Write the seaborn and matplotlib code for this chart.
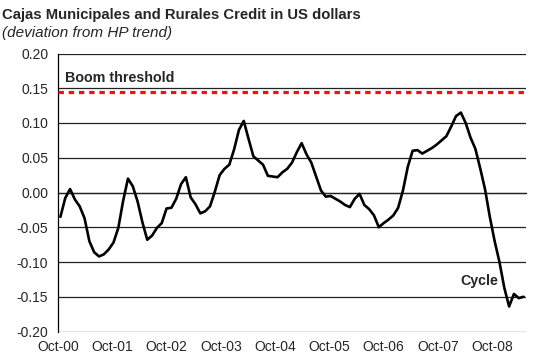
import numpy as np
import pandas as pd
import matplotlib
matplotlib.use("Agg")
import matplotlib.pyplot as plt
import seaborn as sns

# ---- data (monthly, Oct-00 .. Oct-08) ----
cycle = [
    -0.035, -0.008, 0.005, -0.010, -0.020, -0.037, -0.070, -0.086, -0.092, -0.089,
    -0.082, -0.072, -0.051, -0.012, 0.020, 0.009, -0.013, -0.043, -0.068, -0.062,
    -0.051, -0.044, -0.023, -0.022, -0.009, 0.012, 0.022, -0.007, -0.017, -0.030,
    -0.027, -0.020, 0.001, 0.025, 0.034, 0.040, 0.062, 0.090, 0.103, 0.077,
    0.052, 0.046, 0.040, 0.024, 0.023, 0.022, 0.029, 0.034, 0.043, 0.058,
    0.071, 0.055, 0.043, 0.023, 0.003, -0.006, -0.005, -0.009, -0.013, -0.018,
    -0.021, -0.009, -0.002, -0.018, -0.024, -0.033, -0.050, -0.044, -0.039, -0.033,
    -0.022, 0.003, 0.037, 0.060, 0.061, 0.056, 0.060, 0.064, 0.069, 0.075,
    0.081, 0.095, 0.110, 0.115, 0.100, 0.079, 0.063, 0.035, 0.005, -0.035,
    -0.070, -0.100, -0.137, -0.164, -0.146, -0.152, -0.150,
]
boom_threshold = 0.145
tick_labels = ["Oct-00", "Oct-01", "Oct-02", "Oct-03", "Oct-04",
               "Oct-05", "Oct-06", "Oct-07", "Oct-08"]
y_ticks = [-0.20, -0.15, -0.10, -0.05, 0.00, 0.05, 0.10, 0.15, 0.20]

title = "Cajas Municipales and Rurales Credit in US dollars"
subtitle = "(deviation from HP trend)"

df = pd.DataFrame({"month": np.arange(len(cycle)), "cycle": cycle})

sns.set_style("white")
plt.rcParams["font.family"] = ["Liberation Sans", "DejaVu Sans"]

fig = plt.figure(figsize=(5.55, 3.62), dpi=100)
ax = fig.add_axes([58 / 555, 30.5 / 362, 468 / 555, 278 / 362])

n = len(cycle)
ax.set_xlim(-0.5, n - 0.5)
ax.set_ylim(-0.20, 0.20)

# gridlines
ax.set_yticks(y_ticks)
ax.set_yticklabels([f"{v:.2f}" for v in y_ticks], fontsize=10)
ax.grid(axis="y", color="#222222", linewidth=0.9)
ax.grid(axis="x", visible=False)
ax.set_axisbelow(True)

# boom threshold line
ax.axhline(boom_threshold, color="#ee1111", linewidth=2.3, linestyle=(0, (1.7, 1.5)), zorder=3)

# cycle line
sns.lineplot(data=df, x="month", y="cycle", color="black", linewidth=1.9, ax=ax, zorder=4)

# spines
for s in ["top", "right"]:
    ax.spines[s].set_visible(False)
ax.spines["left"].set_color("black")
ax.spines["left"].set_linewidth(0.9)
ax.spines["bottom"].set_position(("data", 0))
ax.spines["bottom"].set_color("#222222")
ax.spines["bottom"].set_linewidth(0.9)

# year ticks on zero line (category boundaries)
ax.set_xticks(np.arange(12, n, 12) - 0.5)
ax.set_xticklabels([])
ax.tick_params(axis="x", direction="out", length=2.5, width=0.9, color="#222222")
ax.tick_params(axis="y", direction="out", length=4, width=0.9, color="black", pad=3)
ax.set_xlabel("")
ax.set_ylabel("")

# bottom labels
sec = ax.secondary_xaxis(0)
label_step = 11.25
sec.set_xticks(np.arange(len(tick_labels)) * label_step - 0.5)
sec.set_xticklabels(tick_labels, fontsize=10)
sec.tick_params(length=0, pad=6)
sec.spines["bottom"].set_visible(False)

# annotations
ax.text(0.9, 0.165, "Boom threshold", fontsize=10.3, fontweight="bold", ha="left", va="center")
ax.text(86.8, -0.128, "Cycle", fontsize=10.3, fontweight="bold", ha="center", va="center")

fig.text(2 / 555, 1 - 15.5 / 362, title, fontsize=10.7, fontweight="bold", ha="left", va="center")
fig.text(2 / 555, 1 - 33.5 / 362, subtitle, fontsize=11, style="italic", ha="left", va="center")

fig.savefig("out.png", dpi=100)
